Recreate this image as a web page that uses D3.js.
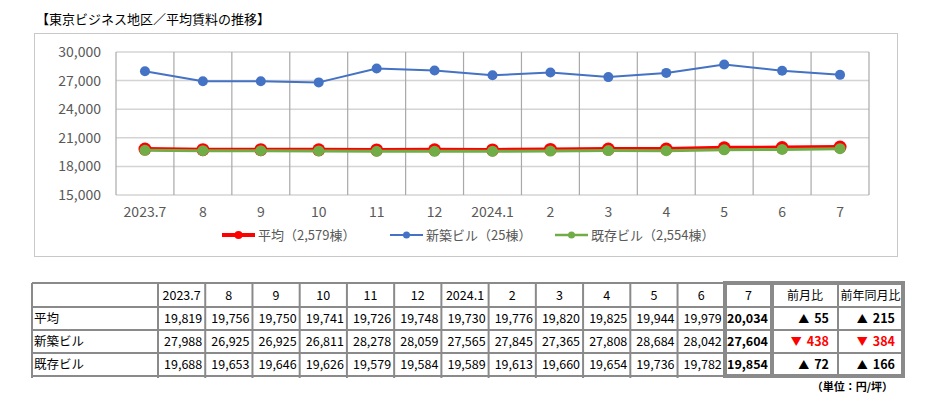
<!DOCTYPE html>
<html>
<head>
<meta charset="utf-8">
<script src="https://cdn.jsdelivr.net/npm/d3@7"></script>
<style>
  body { margin: 0; background: #fff; }
  svg { display: block; font-family: "Noto Sans CJK JP", "Noto Sans", sans-serif; }
</style>
</head>
<body>
<div id="chart"></div>
<script>
// data (円/坪)
const months = ['2023.7', '8', '9', '10', '11', '12', '2024.1', '2', '3', '4', '5', '6', '7'];
const avgRent = [19819, 19756, 19750, 19741, 19726, 19748, 19730, 19776, 19820, 19825, 19944, 19979, 20034];
const newRent = [27988, 26925, 26925, 26811, 28278, 28059, 27565, 27845, 27365, 27808, 28684, 28042, 27604];
const oldRent = [19688, 19653, 19646, 19626, 19579, 19584, 19589, 19613, 19660, 19654, 19736, 19782, 19854];
const rowLabels = ['平均', '新築ビル', '既存ビル'];
const legendLabels = ['平均（2,579棟）', '新築ビル（25棟）', '既存ビル（2,554棟）'];
const momChange = [55, -438, 72];
const yoyChange = [215, -384, 166];
const yTicks = [15000, 18000, 21000, 24000, 27000, 30000];

const W = 930, H = 409;
const svg = d3.select('#chart').append('svg').attr('width', W).attr('height', H);
svg.append('rect').attr('width', W).attr('height', H).attr('fill', '#fff');

// title
svg.append('text').attr('x', 36).attr('y', 24)
  .attr('font-size', 13).attr('fill', '#000')
  .text('【東京ビジネス地区／平均賃料の推移】');

// chart frame
svg.append('rect').attr('x', 34.5).attr('y', 33.5).attr('width', 863).attr('height', 223)
  .attr('fill', 'none').attr('stroke', '#c8c8c8').attr('stroke-width', 1);

const plot = { left: 116, right: 869, top: 52, bottom: 195 };
const x = d3.scaleBand().domain(months).range([plot.left, plot.right]);
const y = d3.scaleLinear().domain([15000, 30000]).range([plot.bottom, plot.top]);

// grid
const grid = svg.append('g');
grid.selectAll('line.h').data(yTicks).enter().append('line')
  .attr('x1', plot.left).attr('x2', plot.right)
  .attr('y1', d => y(d)).attr('y2', d => y(d))
  .attr('stroke', '#d4d4d4').attr('stroke-width', 1.5);
const vEdges = months.map(m => x(m)).concat([plot.right]);
grid.selectAll('line.v').data(vEdges).enter().append('line')
  .attr('x1', d => d).attr('x2', d => d)
  .attr('y1', plot.top).attr('y2', plot.bottom)
  .attr('stroke', '#a9a9a9').attr('stroke-width', 1.2);

// axes labels
const yAxis = d3.axisLeft(y).tickValues(yTicks).tickFormat(d3.format(',')).tickSize(0).tickPadding(15);
svg.append('g').attr('transform', `translate(${plot.left},0)`).call(yAxis)
  .call(g => g.select('.domain').remove())
  .selectAll('text').attr('font-size', 14).attr('fill', '#595959')
  .attr('font-family', '"Noto Sans CJK JP", sans-serif');

const xAxis = d3.axisBottom(x).tickSize(0).tickPadding(12);
svg.append('g').attr('transform', `translate(0,${plot.bottom})`).call(xAxis)
  .call(g => g.select('.domain').remove())
  .selectAll('text').attr('font-size', 14).attr('fill', '#595959')
  .attr('font-family', '"Noto Sans CJK JP", sans-serif');

const cx = m => x(m) + x.bandwidth() / 2;
const series = [
  { values: newRent, color: '#4472C4', width: 2, r: 5 },
  { values: avgRent, color: '#FF0000', width: 4, r: 6.5 },
  { values: oldRent, color: '#70AD47', width: 3, r: 5.5 }
];
const line = d3.line().x((d, i) => cx(months[i])).y(d => y(d));
series.forEach(s => {
  svg.append('path').datum(s.values).attr('d', line)
    .attr('fill', 'none').attr('stroke', s.color).attr('stroke-width', s.width)
    .attr('stroke-linejoin', 'round');
  svg.append('g').selectAll('circle').data(s.values).enter().append('circle')
    .attr('cx', (d, i) => cx(months[i])).attr('cy', d => y(d))
    .attr('r', s.r).attr('fill', s.color);
});

// legend
const legend = [
  { x: 222, color: '#FF0000', width: 4, r: 4, label: legendLabels[0] },
  { x: 390, color: '#4472C4', width: 2, r: 3.5, label: legendLabels[1] },
  { x: 555, color: '#70AD47', width: 2.5, r: 3.5, label: legendLabels[2] }
];
const lg = svg.append('g').selectAll('g').data(legend).enter().append('g')
  .attr('transform', d => `translate(${d.x},235)`);
lg.append('line').attr('x1', 0).attr('x2', 33).attr('stroke', d => d.color).attr('stroke-width', d => d.width);
lg.append('circle').attr('cx', 16.5).attr('r', d => d.r).attr('fill', d => d.color);
lg.append('text').attr('x', 36).attr('y', 4.5).attr('font-size', 13).attr('fill', '#595959').text(d => d.label);

// table
const tbl = svg.append('g');
const colX = d3.scaleBand().domain(months).range([158, 772]);
const rowY = [283, 307, 330, 353, 376];
const tableLeft = 32, cmpMid = 838, tableRight = 903;
const thin = '#8a8a8a';
const fmt = d3.format(',');

// thin grid
rowY.forEach((yy, i) => {
  tbl.append('line').attr('x1', tableLeft).attr('x2', 725).attr('y1', yy).attr('y2', yy)
    .attr('stroke', thin).attr('stroke-width', 2);
  tbl.append('line').attr('x1', 725).attr('x2', tableRight).attr('y1', yy).attr('y2', yy)
    .attr('stroke', thin).attr('stroke-width', (i === 0 || i === 4) ? 4 : 2);
});
const vLines = [tableLeft].concat(months.slice(0, 12).map(m => colX(m)));
vLines.forEach(xx => {
  tbl.append('line').attr('x1', xx).attr('x2', xx).attr('y1', rowY[0]).attr('y2', rowY[4] + 2)
    .attr('stroke', thin).attr('stroke-width', 2);
});
[725, 772, tableRight].forEach(xx => {
  tbl.append('line').attr('x1', xx).attr('x2', xx).attr('y1', rowY[0] - 2).attr('y2', rowY[4] + 2)
    .attr('stroke', thin).attr('stroke-width', 4);
});
tbl.append('line').attr('x1', cmpMid).attr('x2', cmpMid).attr('y1', rowY[0]).attr('y2', rowY[4])
  .attr('stroke', thin).attr('stroke-width', 2);

// header
const hdr = tbl.append('g').attr('font-size', 12.5).attr('fill', '#000').attr('text-anchor', 'middle');
months.forEach(m => {
  hdr.append('text').attr('x', colX(m) + colX.bandwidth() / 2).attr('y', rowY[0] + 17).text(m);
});
hdr.append('text').attr('x', (772 + cmpMid) / 2).attr('y', rowY[0] + 17).attr('font-size', 12).text('前月比');
hdr.append('text').attr('x', (cmpMid + tableRight) / 2).attr('y', rowY[0] + 17).attr('font-size', 12).text('前年同月比');

const tableRows = [avgRent, newRent, oldRent];
tableRows.forEach((vals, r) => {
  const by = rowY[r + 1] + 16;
  tbl.append('text').attr('x', 34).attr('y', by).attr('font-size', 12.5).text(rowLabels[r]);
  vals.forEach((v, i) => {
    const last = i === months.length - 1;
    tbl.append('text').attr('x', colX(months[i]) + colX.bandwidth() - (last ? 4 : 3)).attr('y', by)
      .attr('text-anchor', 'end').attr('font-size', 12.5)
      .attr('font-weight', last ? 'bold' : 'normal').text(fmt(v));
  });
  [[momChange[r], cmpMid - 9], [yoyChange[r], tableRight - 8]].forEach(([c, xx]) => {
    const t = tbl.append('text').attr('x', xx).attr('y', by).attr('text-anchor', 'end')
      .attr('font-size', 12.5).attr('font-weight', 'bold')
      .attr('fill', c < 0 ? '#FF0000' : '#000');
    t.append('tspan').attr('font-size', 11).text(c < 0 ? '▼' : '▲');
    t.append('tspan').attr('dx', 5).text(fmt(Math.abs(c)));
  });
});

svg.append('text').attr('x', 893).attr('y', 391).attr('text-anchor', 'end')
  .attr('font-size', 11).attr('font-weight', 'bold').text('（単位：円/坪）');
</script>
</body>
</html>
